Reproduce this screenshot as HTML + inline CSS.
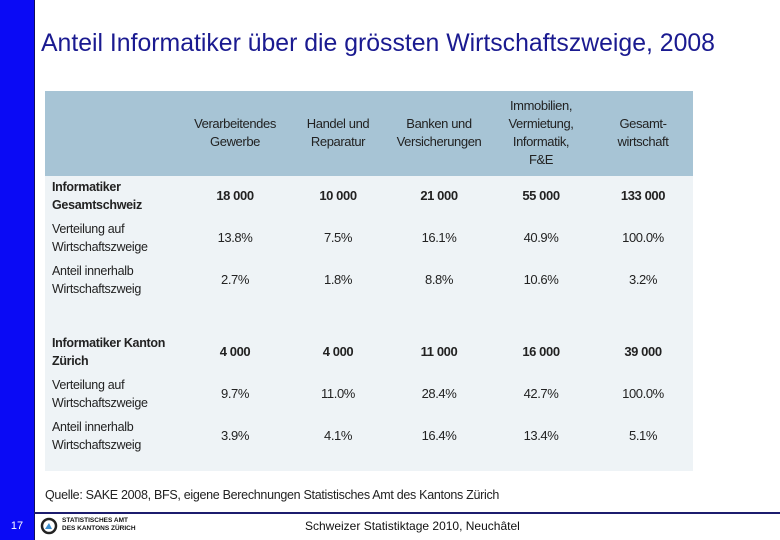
<!DOCTYPE html>
<html><head><meta charset="utf-8"><style>
body{margin:0;width:780px;height:540px;position:relative;background:#fff;font-family:"Liberation Sans",sans-serif;overflow:hidden}
.bar{position:absolute;left:0;top:0;width:34px;height:540px;background:#0a0af5;border-right:1px solid #10105a}
.title{position:absolute;left:41px;top:30px;font-size:24.8px;color:#1a1a90;white-space:nowrap}
.tbl{position:absolute;left:45px;top:91px;width:648px;height:380px;background:#eef3f6}
.head{position:absolute;left:0;top:0;width:648px;height:85px;background:#a7c4d5}
.t{position:absolute;font-size:13px;color:#222;line-height:18px;text-align:center;transform:translateX(-50%);white-space:nowrap;letter-spacing:-0.4px}
.l{position:absolute;left:7px;font-size:12.5px;color:#222;line-height:18px;white-space:nowrap;letter-spacing:-0.3px}
.b{font-weight:bold}
.src{position:absolute;left:45px;top:488px;font-size:12.5px;color:#222;letter-spacing:-0.3px}
.line{position:absolute;left:34px;top:512px;width:746px;height:2px;background:#1c1c6e}
.num{position:absolute;left:0;top:520px;width:34px;text-align:center;font-size:11px;color:#fff}
.foot{position:absolute;left:305px;top:519px;font-size:12px;color:#111}
.logo{position:absolute;left:62px;top:517px;font-size:6.5px;font-weight:bold;color:#111;line-height:8px}
</style></head><body>
<div class="bar"></div>
<div class="title">Anteil Informatiker über die grössten Wirtschaftszweige, 2008</div>
<div class="tbl">
<div class="head">
<div class="t" style="left:190px;top:24px">Verarbeitendes<br>Gewerbe</div>
<div class="t" style="left:293px;top:24px">Handel und<br>Reparatur</div>
<div class="t" style="left:394px;top:24px">Banken und<br>Versicherungen</div>
<div class="t" style="left:496px;top:6px">Immobilien,<br>Vermietung,<br>Informatik,<br>F&amp;E</div>
<div class="t" style="left:598px;top:24px">Gesamt-<br>wirtschaft</div>
</div>
<div id="rows"></div>
</div>
<div class="src">Quelle: SAKE 2008, BFS, eigene Berechnungen Statistisches Amt des Kantons Zürich</div>
<div class="line"></div>
<div class="num">17</div>
<svg style="position:absolute;left:40px;top:517px" width="18" height="18"><circle cx="9" cy="9" r="7" fill="none" stroke="#222" stroke-width="2.5"/><path d="M5 12 L12 12 L9 6Z" fill="#3b8fd0"/></svg>
<div class="logo">STATISTISCHES AMT<br>DES KANTONS ZÜRICH</div>
<div class="foot">Schweizer Statistiktage 2010, Neuchâtel</div>
<script>
const rowLabels=[["Informatiker","Gesamtschweiz"],["Verteilung auf","Wirtschaftszweige"],["Anteil innerhalb","Wirtschaftszweig"],["Informatiker Kanton","Zürich"],["Verteilung auf","Wirtschaftszweige"],["Anteil innerhalb","Wirtschaftszweig"]];
const rowValues=[["18 000","10 000","21 000","55 000","133 000"],["13.8%","7.5%","16.1%","40.9%","100.0%"],["2.7%","1.8%","8.8%","10.6%","3.2%"],["4 000","4 000","11 000","16 000","39 000"],["9.7%","11.0%","28.4%","42.7%","100.0%"],["3.9%","4.1%","16.4%","13.4%","5.1%"]];
const boldRows=[true,false,false,true,false,false];
const rowTops=[87,129,171,243,285,327];
const colX=[190,293,394,496,598];
const c=document.getElementById('rows');
rowLabels.forEach((lab,i)=>{
const l=document.createElement('div');l.className='l'+(boldRows[i]?' b':'');l.style.top=rowTops[i]+'px';l.innerHTML=lab.join('<br>');


c.appendChild(l);
rowValues[i].forEach((v,j)=>{
const d=document.createElement('div');d.className='t'+(boldRows[i]?' b':'');d.style.left=colX[j]+'px';d.style.top=(rowTops[i]+9)+'px';d.textContent=v;


c.appendChild(d);});
});
</script>
</body></html>
